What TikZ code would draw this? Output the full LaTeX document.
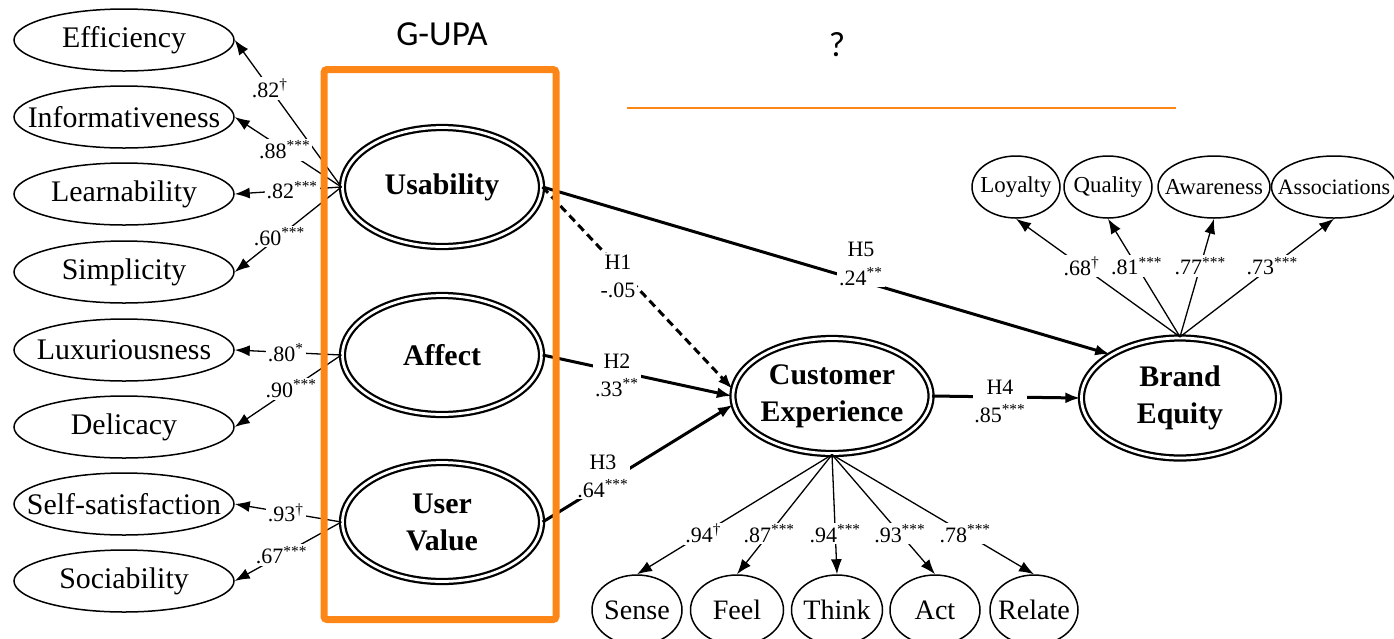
\documentclass[tikz,border=0pt]{standalone}
\usepackage{fontspec}
\setmainfont{Liberation Serif}
\newfontfamily\calibri{Carlito}
\usetikzlibrary{arrows.meta, shapes.geometric}
\definecolor{boxorange}{RGB}{253,134,23}

\begin{document}
\begin{tikzpicture}[x=0.2mm, y=-0.2mm, >={Latex[length=3mm,width=2.2mm]},
item node/.style={ellipse, draw, line width=0.3mm, inner xsep=-4mm, inner ysep=0pt},
left item/.style={item node, minimum width=44mm, minimum height=12.4mm, font=\fontsize{17}{20}\selectfont},
brand item/.style={item node, minimum height=12.4mm, font=\fontsize{13}{15}\selectfont},
exp item/.style={item node, minimum height=14mm, font=\fontsize{16}{19}\selectfont},
latent node/.style={ellipse, draw, double, line width=0.45mm, double distance=0.55mm, inner xsep=-4mm, inner ysep=0pt, align=center, font=\fontsize{17}{21}\selectfont\bfseries},
load/.style={->, line width=0.26mm},
effect/.style={->, line width=0.6mm},
coef/.style={fill=white, inner sep=1pt, align=center, font=\fontsize{12.5}{16}\selectfont}]
\useasboundingbox (0,0) rectangle (1394,638);
\node[font=\calibri\fontsize{20}{24}\selectfont] (gupa) at (442,34) {G-UPA};
\node[font=\calibri\fontsize{20}{24}\selectfont] (qmark) at (837,45) {?};
\node[left item] (eff) at (124,40) {Efficiency};
\node[left item] (info) at (124,117) {Informativeness};
\node[left item] (learn) at (124,194) {Learnability};
\node[left item] (simp) at (124,272) {Simplicity};
\node[left item] (lux) at (124,350) {Luxuriousness};
\node[left item] (deli) at (124,427) {Delicacy};
\node[left item] (self) at (124,504) {Self-satisfaction};
\node[left item] (soci) at (124,581) {Sociability};
\node[latent node, minimum width=39.8mm, minimum height=23.8mm] (usab) at (442,187) {Usability};
\node[latent node, minimum width=39.8mm, minimum height=23.8mm] (affect) at (442,355) {Affect};
\node[latent node, minimum width=39.8mm, minimum height=23.8mm] (value) at (442,522) {User\\Value};
\node[latent node, minimum width=39.6mm, minimum height=23mm] (ce) at (832,396) {Customer\\Experience};
\node[latent node, minimum width=39.4mm, minimum height=24mm] (be) at (1180,398) {Brand\\Equity};
\node[brand item, minimum width=17.6mm] (loyal) at (1016,187) {Loyalty};
\node[brand item, minimum width=17.6mm] (qual) at (1108,187) {Quality};
\node[brand item, minimum width=22.4mm] (aware) at (1214,187) {Awareness};
\node[brand item, minimum width=25mm, font=\fontsize{12.5}{15}\selectfont] (assoc) at (1334,187) {Associations};
\node[exp item, minimum width=18mm] (sense) at (637,610) {Sense};
\node[exp item, minimum width=18.6mm] (feel) at (737,610) {Feel};
\node[exp item, minimum width=18.2mm] (think) at (837,610) {Think};
\node[exp item, minimum width=18mm] (act) at (935,610) {Act};
\node[exp item, minimum width=17.6mm] (relate) at (1034,610) {Relate};
\draw[load] (usab.west) -- node[coef, pos=0.67] {.82\textsuperscript{\textdagger}} (eff.east);
\draw[load] (usab.west) -- node[coef, pos=0.53] {.88\textsuperscript{***}} (info.east);
\draw[load] (usab.west) -- node[coef, pos=0.46] {.82\textsuperscript{***}} (learn.east);
\draw[load] (usab.west) -- node[coef, pos=0.58] {.60\textsuperscript{***}} (simp.east);
\draw[load] (affect.west) -- node[coef, pos=0.52] {.80\textsuperscript{*}} (lux.east);
\draw[load] (affect.west) -- node[coef, pos=0.47] {.90\textsuperscript{***}} (deli.east);
\draw[load] (value.west) -- node[coef, pos=0.52] {.93\textsuperscript{\textdagger}} (self.east);
\draw[load] (value.west) -- node[coef, pos=0.56] {.67\textsuperscript{***}} (soci.east);
\draw[load] (be.north) -- node[coef, pos=0.6] {.68\textsuperscript{\textdagger}} (loyal.south);
\draw[load] (be.north) -- node[coef, pos=0.6] {.81\textsuperscript{***}} (qual.south);
\draw[load] (be.north) -- node[coef, pos=0.6] {.77\textsuperscript{***}} (aware.south);
\draw[load] (be.north) -- node[coef, pos=0.6] {.73\textsuperscript{***}} (assoc.south);
\draw[load] (ce.south) -- node[coef, pos=0.66] {.94\textsuperscript{\textdagger}} (sense.north);
\draw[load] (ce.south) -- node[coef, pos=0.66] {.87\textsuperscript{***}} (feel.north);
\draw[load] (ce.south) -- node[coef, pos=0.66] {.94\textsuperscript{***}} (think.north);
\draw[load] (ce.south) -- node[coef, pos=0.66] {.93\textsuperscript{***}} (act.north);
\draw[load] (ce.south) -- node[coef, pos=0.66] {.78\textsuperscript{***}} (relate.north);
\draw[effect, dash pattern=on 1.6mm off 1mm] (usab.east) -- (ce.176);
\draw[effect] (usab.east) -- (be.148);
\draw[effect] (affect.east) -- (ce.west);
\draw[effect] (value.east) -- (ce.185);
\draw[effect] (ce.east) -- (be.west);
\node[coef] (h1) at (618,276) {H1\\-.05};
\node[coef] (h2) at (617,375) {H2\\.33\textsuperscript{**}};
\node[coef] (h3) at (603,476) {H3\\.64\textsuperscript{***}};
\node[coef] (h4) at (1000,401) {H4\\.85\textsuperscript{***}};
\node[coef] (h5) at (861,264) {H5\\.24\textsuperscript{**}};
\draw[boxorange, line width=1.4mm, rounded corners=0.6mm] (324,69.5) rectangle (556,619.5);
\draw[boxorange, line width=0.5mm] (627,108) -- (1176,108);
\end{tikzpicture}
\end{document}
